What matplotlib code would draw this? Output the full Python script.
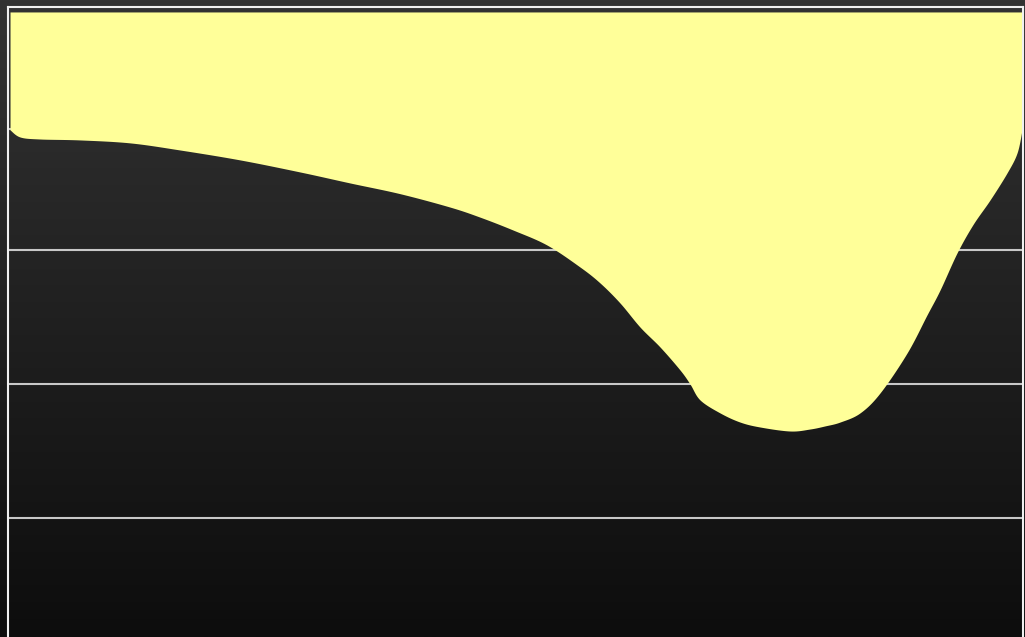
import matplotlib
matplotlib.use("Agg")
import matplotlib.pyplot as plt
import numpy as np

# curve values
x_vals = [0, 0.99, 2.96, 6.92, 11.86, 16.80, 22.73, 28.66, 33.60, 38.54,
          43.48, 46.44, 49.70, 53.06, 56.32, 58.30, 60.28, 62.25, 64.23, 66.21,
          67.19, 68.18, 70.16, 72.13, 74.11, 77.08, 79.05, 80.53, 82.02, 83.99,
          85.97, 88.64, 90.61, 91.90, 93.58, 95.16, 96.84, 98.52, 99.51, 100]
y_vals = [28.96, 28.43, 28.28, 28.21, 27.99, 27.46, 26.72, 25.82, 25.00, 24.20,
          23.20, 22.45, 21.49, 20.37, 18.73, 17.54, 16.04, 14.25, 12.76, 11.04,
          10.00, 8.81, 7.84, 7.16, 6.79, 6.49, 6.64, 6.87, 7.16, 7.84,
          9.33, 12.31, 15.15, 17.01, 19.78, 21.90, 23.73, 25.75, 27.24, 28.96]
grid_vals = [0, 10, 20, 29]
fill_top = 37.76


def smooth(xs, ys, n=12):
    # catmull-rom so the edge is drawn as a smooth curve like the original
    p = np.column_stack([xs, ys])
    p = np.vstack([p[0], p, p[-1]])
    out = []
    t = np.linspace(0, 1, n, endpoint=False)[:, None]
    for i in range(1, len(p) - 2):
        p0, p1, p2, p3 = p[i - 1], p[i], p[i + 1], p[i + 2]
        seg = 0.5 * ((2 * p1) + (-p0 + p2) * t + (2 * p0 - 5 * p1 + 4 * p2 - p3) * t ** 2
                     + (-p0 + 3 * p1 - 3 * p2 + p3) * t ** 3)
        out.append(seg)
    out.append(p[-2][None, :])
    out = np.vstack(out)
    return out[:, 0], out[:, 1]


W, H = 1025, 637
fig = plt.figure(figsize=(W / 100, H / 100), dpi=100)

# dark vertical gradient behind everything
bg = fig.add_axes([0, 0, 1, 1], zorder=-1)
grad = np.linspace(0, 1, 256).reshape(-1, 1)
bg.imshow(grad, aspect='auto', cmap=matplotlib.colors.LinearSegmentedColormap.from_list(
    'bg', ['#333333', '#0d0d0d']), extent=[0, 1, 0, 1], origin='upper')
bg.axis('off')

ax = fig.add_axes([8 / W, 0, (1023 - 8) / W, (H - 7) / H])
ax.patch.set_alpha(0)
ax.set_xlim(-0.2, 100.1)
ax.set_ylim(-8.88, 38.13)

for g in grid_vals:
    ax.axhline(g, color='#c8c8c8', lw=1.5, zorder=1)

sx, sy = smooth(x_vals, y_vals)
ax.fill_between(sx, sy, fill_top, color='#ffff99', lw=0, zorder=2)

for s in ['left', 'top', 'right']:
    ax.spines[s].set_color('#f0f0f0')
    ax.spines[s].set_linewidth(1.5)
ax.spines['bottom'].set_visible(False)
ax.set_xticks([])
ax.set_yticks([])

fig.savefig('out.png', dpi=100)
